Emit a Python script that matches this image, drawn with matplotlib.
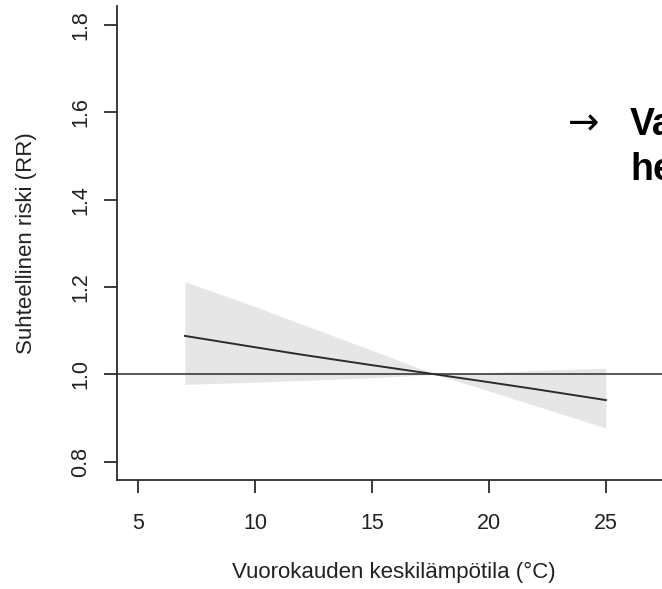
import matplotlib
matplotlib.use("Agg")
import matplotlib.pyplot as plt

# Temperature (°C) and relative risk curve with confidence band
temp = [7, 10, 12, 15, 17.7, 20, 22, 25]
rr = [1.088, 1.062, 1.045, 1.021, 1.0, 0.982, 0.966, 0.941]
rr_upper = [1.212, 1.155, 1.115, 1.055, 1.0, 1.004, 1.009, 1.014]
rr_lower = [0.977, 0.982, 0.986, 0.992, 1.0, 0.962, 0.928, 0.877]

x_ticks = [5, 10, 15, 20, 25]
y_ticks = [0.8, 1.0, 1.2, 1.4, 1.6, 1.8]

INK = "#2b2b2b"
BAND = "#e6e6e6"
W, H = 662, 589

plt.rcParams["font.family"] = ["Liberation Sans", "DejaVu Sans"]

fig = plt.figure(figsize=(W / 100, H / 100), dpi=100)
ax = fig.add_axes([116.7 / W, 1 - 480 / H, 554.6 / W, 474 / H])

ax.fill_between(temp, rr_lower, rr_upper, color=BAND, linewidth=0, zorder=1)
ax.plot(temp, rr, color=INK, linewidth=1.4, zorder=3)
ax.axhline(1.0, color=INK, linewidth=1.1, zorder=2, clip_on=False)

ax.set_xlim(4.08, 27.8)
ax.set_ylim(0.758, 1.8435)
ax.set_xticks(x_ticks)
ax.set_yticks(y_ticks)
ax.set_yticklabels([f"{v:.1f}" for v in y_ticks])

for side in ("top", "right"):
    ax.spines[side].set_visible(False)
for side in ("left", "bottom"):
    ax.spines[side].set_color(INK)
    ax.spines[side].set_linewidth(1.3)

ax.tick_params(axis="both", direction="out", length=9.5, width=1.3,
               color=INK, labelsize=15.5, labelcolor="#222222")
ax.tick_params(axis="x", pad=14)
ax.tick_params(axis="y", pad=9, labelrotation=90)
for lab in ax.get_yticklabels():
    lab.set_va("center")

ax.set_xlabel("Vuorokauden keskilämpötila (°C)", fontsize=16, color="#222222")
ax.set_ylabel("Suhteellinen riski (RR)", fontsize=16, color="#222222")
ax.xaxis.set_label_coords(0.5, -0.172)
ax.yaxis.set_label_coords(-0.143, 0.5)

# Cut-off slide annotation on the right
fig.text(568 / W, 1 - 134 / H, "→", fontsize=27, family="DejaVu Sans",
         ha="left", va="baseline", color="black")
fig.text(630 / W, 1 - 135 / H, "Va", fontsize=27, fontweight="bold",
         ha="left", va="baseline", color="black")
fig.text(630 / W, 1 - 180 / H, "he", fontsize=27, fontweight="bold",
         ha="left", va="baseline", color="black")

fig.savefig("out.png", dpi=100, facecolor="white")
